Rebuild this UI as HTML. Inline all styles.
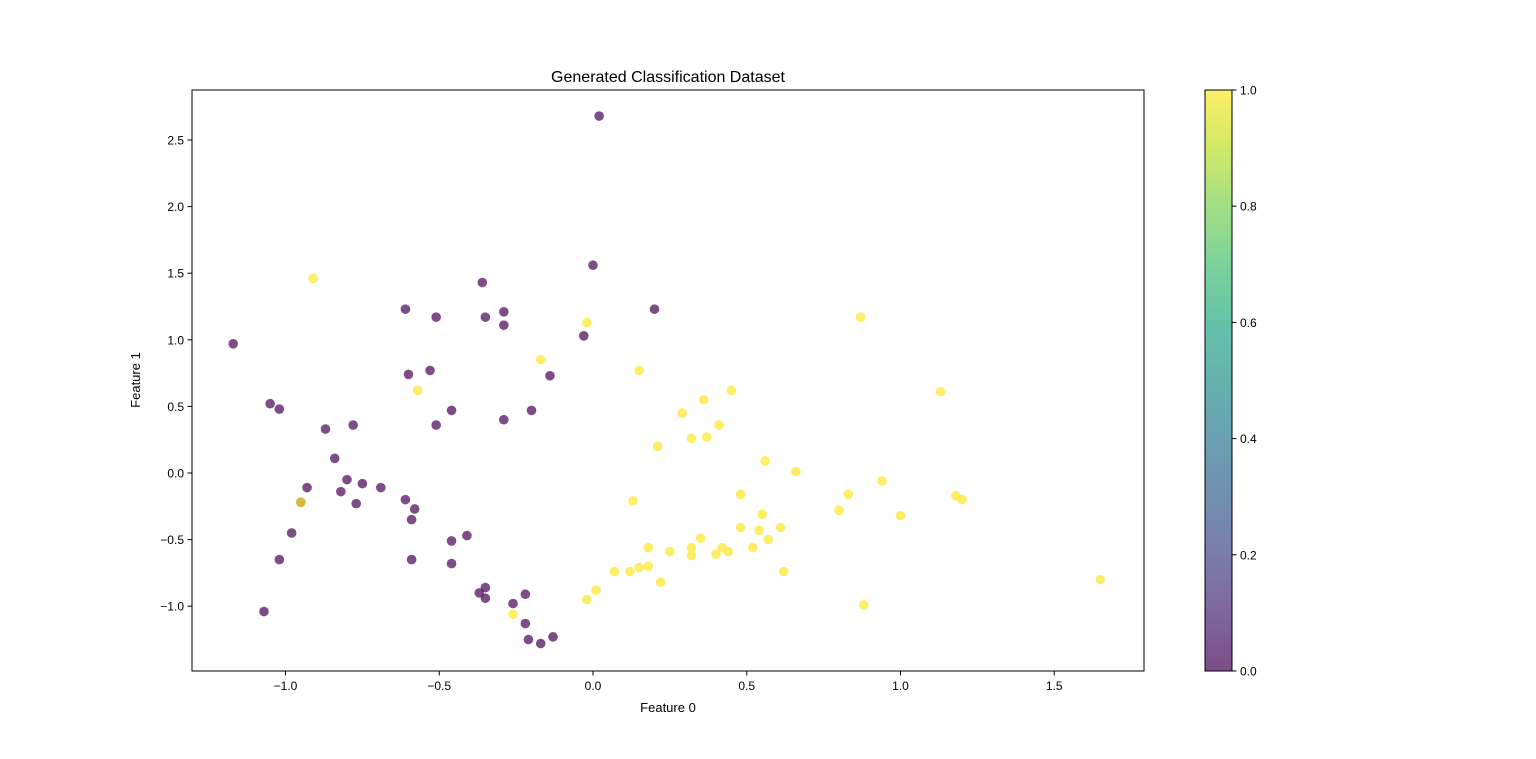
<!DOCTYPE html>
<html><head><meta charset="utf-8"><style>
body{margin:0;background:#fff;}
svg text{font-family:"Liberation Sans","DejaVu Sans",sans-serif;fill:#000;}
</style></head><body>
<svg id="chart" width="1536" height="754" xmlns="http://www.w3.org/2000/svg">
<defs><linearGradient id="vir" x1="0" y1="1" x2="0" y2="0">
<stop offset="0" stop-color="#440154"/><stop offset="0.1" stop-color="#482475"/><stop offset="0.2" stop-color="#414487"/><stop offset="0.3" stop-color="#355f8d"/><stop offset="0.4" stop-color="#2a788e"/><stop offset="0.5" stop-color="#21918c"/><stop offset="0.6" stop-color="#22a884"/><stop offset="0.7" stop-color="#44bf70"/><stop offset="0.8" stop-color="#7ad151"/><stop offset="0.9" stop-color="#bddf26"/><stop offset="1" stop-color="#fde725"/>
</linearGradient></defs>
<text x="668" y="82" font-size="16" text-anchor="middle">Generated Classification Dataset</text>
<g id="marks"></g>
<rect x="192" y="90" width="952" height="581" fill="none" stroke="#000" stroke-width="1"/>
<g id="axes"></g>
<text x="668" y="712" font-size="13" text-anchor="middle">Feature 0</text>
<text x="140" y="380" font-size="13" text-anchor="middle" transform="rotate(-90 140 380)">Feature 1</text>
<rect x="1205" y="90" width="27" height="581" fill="url(#vir)" opacity="0.7"/>
<rect x="1205" y="90" width="27" height="581" fill="none" stroke="#000" stroke-width="1"/>
<g id="cbar"></g>
</svg>
<script>
const purpleX=[0.02,0.00,-0.36,-0.61,0.20,-0.51,-0.35,-0.29,-0.29,-1.17,-0.03,-0.53,-0.60,-0.14,-1.05,-1.02,-0.46,-0.78,-0.87,-0.51,-0.29,-0.20,-0.84,-0.80,-0.75,-0.82,-0.93,-0.69,-0.95,-0.77,-0.61,-0.58,-0.59,-0.98,-0.41,-0.46,-1.02,-0.59,-0.46,-0.37,-0.35,-0.35,-0.22,-0.26,-1.07,-0.22,-0.21,-0.17,-0.13];
const purpleY=[2.68,1.56,1.43,1.23,1.23,1.17,1.17,1.21,1.11,0.97,1.03,0.77,0.74,0.73,0.52,0.48,0.47,0.36,0.33,0.36,0.40,0.47,0.11,-0.05,-0.08,-0.14,-0.11,-0.11,-0.22,-0.23,-0.20,-0.27,-0.35,-0.45,-0.47,-0.51,-0.65,-0.65,-0.68,-0.90,-0.86,-0.94,-0.91,-0.98,-1.04,-1.13,-1.25,-1.28,-1.23];
const yellowX=[-0.91,-0.02,-0.17,-0.57,0.15,0.45,0.36,0.29,0.41,0.32,0.37,0.21,0.56,0.66,0.87,1.13,-0.95,0.13,0.48,0.83,0.94,1.18,1.20,0.80,0.55,1.00,0.48,0.54,0.61,0.57,0.35,0.18,0.32,0.25,0.42,0.44,0.40,0.52,0.32,0.22,0.15,0.18,0.12,0.07,0.62,0.01,-0.02,0.88,-0.26,1.65];
const yellowY=[1.46,1.13,0.85,0.62,0.77,0.62,0.55,0.45,0.36,0.26,0.27,0.20,0.09,0.01,1.17,0.61,-0.22,-0.21,-0.16,-0.16,-0.06,-0.17,-0.20,-0.28,-0.31,-0.32,-0.41,-0.43,-0.41,-0.50,-0.49,-0.56,-0.56,-0.59,-0.56,-0.59,-0.61,-0.56,-0.62,-0.82,-0.71,-0.70,-0.74,-0.74,-0.74,-0.88,-0.95,-0.99,-1.06,-0.80];
const xTicks=[-1.0,-0.5,0.0,0.5,1.0,1.5];
const yTicks=[-1.0,-0.5,0.0,0.5,1.0,1.5,2.0,2.5];
const cbTicks=[0.0,0.2,0.4,0.6,0.8,1.0];
const NS="http://www.w3.org/2000/svg";
const sx=v=>593+v*307.5, sy=v=>473-v*133.2, cy=v=>671-v*581;
function mk(t,a,p){const e=document.createElementNS(NS,t);for(const k in a)e.setAttribute(k,a[k]);p.appendChild(e);return e;}
const marks=document.getElementById('marks');
purpleX.forEach((x,i)=>{const c=mk('circle',{cx:sx(x),cy:sy(purpleY[i]),r:4.8,fill:'#440154','fill-opacity':0.7},marks);

});
yellowX.forEach((x,i)=>{const c=mk('circle',{cx:sx(x),cy:sy(yellowY[i]),r:4.8,fill:'#fde725','fill-opacity':0.7},marks);

});
const ax=document.getElementById('axes');
xTicks.forEach(v=>{const x=sx(v);mk('line',{x1:x,x2:x,y1:671,y2:675.5,stroke:'#000'},ax);
const t=mk('text',{x:x,y:690,'font-size':12,'text-anchor':'middle'},ax);t.textContent=(v<0?'\u2212':'')+Math.abs(v).toFixed(1);

});
yTicks.forEach(v=>{const y=sy(v);mk('line',{x1:187.5,x2:192,y1:y,y2:y,stroke:'#000'},ax);
const t=mk('text',{x:184,y:y+4.5,'font-size':12,'text-anchor':'end'},ax);t.textContent=(v<0?'\u2212':'')+Math.abs(v).toFixed(1);

});
const cb=document.getElementById('cbar');
cbTicks.forEach(v=>{const y=cy(v);mk('line',{x1:1232,x2:1236.5,y1:y,y2:y,stroke:'#000'},cb);
const t=mk('text',{x:1240,y:y+4.5,'font-size':12},cb);t.textContent=v.toFixed(1);

});
</script>
</body></html>
